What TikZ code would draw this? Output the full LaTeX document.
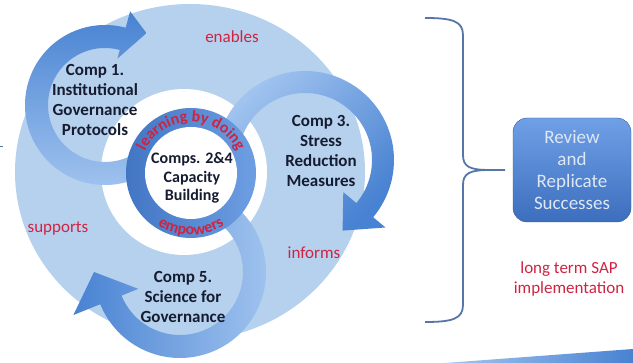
\documentclass[tikz,border=0pt]{standalone}
\usepackage{fontspec}
\setmainfont{Carlito}
\usetikzlibrary{decorations.text}

\definecolor{discblue}{RGB}{182,209,238}
\definecolor{arrowlight}{RGB}{164,198,240}
\definecolor{arrowdark}{RGB}{72,130,210}
\definecolor{ringlight}{RGB}{110,158,226}
\definecolor{ringdark}{RGB}{66,118,196}
\definecolor{verbred}{RGB}{206,36,66}
\definecolor{compink}{RGB}{22,28,48}
\definecolor{bracecol}{RGB}{86,118,168}
\definecolor{boxtop}{RGB}{112,160,230}
\definecolor{boxbottom}{RGB}{60,110,190}
\definecolor{boxtext}{RGB}{222,232,244}

\tikzset{comp/.style={align=center, font=\bfseries\fontsize{17}{20}\selectfont, text=compink},
%red verbs round the cycle
verb/.style={align=center, font=\fontsize{17}{20}\selectfont, text=verbred},
reviewbox/.style={rounded corners=14pt, minimum width=118pt, minimum height=104pt, top color=boxtop, bottom color=boxbottom, draw=boxbottom!85!black, text=boxtext, align=center, font=\fontsize{19}{22}\selectfont},
ringtext/.style={decorate, decoration={text along path, text align=center, text={|\bfseries\fontsize{16}{16}\selectfont\color{verbred}|#1}}}}

\begin{document}
\begin{tikzpicture}[x=1pt,y=1pt]
\useasboundingbox (0,0) rectangle (633,363);
% disc and white gap
\fill[discblue] (190,191) ellipse[x radius=175, y radius=168];
\fill[white] (184,191) circle[radius=83];

% Comp 1 arrow
\begin{scope}[shift={(105,258)}]
\shade[top color=arrowdark, bottom color=arrowlight] (-60:57) -- (-60:80) arc[start angle=-60, end angle=-285, radius=80] -- (75:97) -- (60:83) -- (75:48) -- (75:57) arc[start angle=75, end angle=300, radius=57] -- cycle;
\end{scope}

% Comp 3 arrow
\begin{scope}[shift={(305,203)}]
\shade[top color=arrowlight, bottom color=arrowdark, shading angle=45] (160:67) -- (160:89) arc[start angle=160, end angle=-40, radius=89] -- (-40:105) -- (-62:80) -- (-40:50) -- (-40:67) arc[start angle=-40, end angle=160, radius=67] -- cycle;
\end{scope}

% Comp 5 arrow
\begin{scope}[shift={(180,91)}]
\shade[left color=arrowdark, right color=arrowlight] (60:63) -- (60:86) arc[start angle=60, end angle=-158, radius=86] -- (-158:115) -- (-180:86) -- (-158:45) -- (-158:63) arc[start angle=-158, end angle=60, radius=63] -- cycle;
\end{scope}

% ring
\begin{scope}[shift={(191,190)}]
\shade[left color=ringdark, right color=ringlight] (0,0) circle[radius=65];
\fill[white] (0,0) circle[radius=46];
\path[ringtext={learning by doing}] (162:51) arc[start angle=162, end angle=18, radius=51];
\path[ringtext={empowers}] (-130:62) arc[start angle=-130, end angle=-50, radius=62];
\end{scope}

%labels
\node[comp, font=\bfseries\fontsize{16}{18.5}\selectfont] (capacity) at (192,185) {Comps. 2\&4\\Capacity\\Building};
\node[comp] (comp1) at (95,263) {Comp 1.\\Institutional\\Governance\\Protocols};
\node[comp] (comp3) at (321,212) {Comp 3.\\Stress\\Reduction\\Measures};
\node[comp] (comp5) at (183,66) {Comp 5.\\Science for\\Governance};
\node[verb] (enables) at (232,326) {enables};
\node[verb] (supports) at (58,134) {supports};
\node[verb] (informs) at (314,110) {informs};

% brace and box
\coordinate (bracetip) at (505,193);
\draw[bracecol, line width=1.8] (425,345) .. controls (452,345) and (463,342) .. (463,328) -- (463,208) .. controls (463,196) and (470,193) .. (490,193) -- (bracetip) (490,193) .. controls (470,193) and (463,190) .. (463,178) -- (463,58) .. controls (463,44) and (452,41) .. (425,41);
\node[reviewbox] (review) at (572,193) {Review\\and\\Replicate\\Successes};
\node[verb] (sap) at (569,84) {long term SAP\\implementation};

\shade[left color=arrowlight, right color=arrowdark] (445,0) -- (633,14) -- (633,0) -- cycle;
\draw[bracecol, line width=1] (0,216) -- (3,216);
\end{tikzpicture}
\end{document}
